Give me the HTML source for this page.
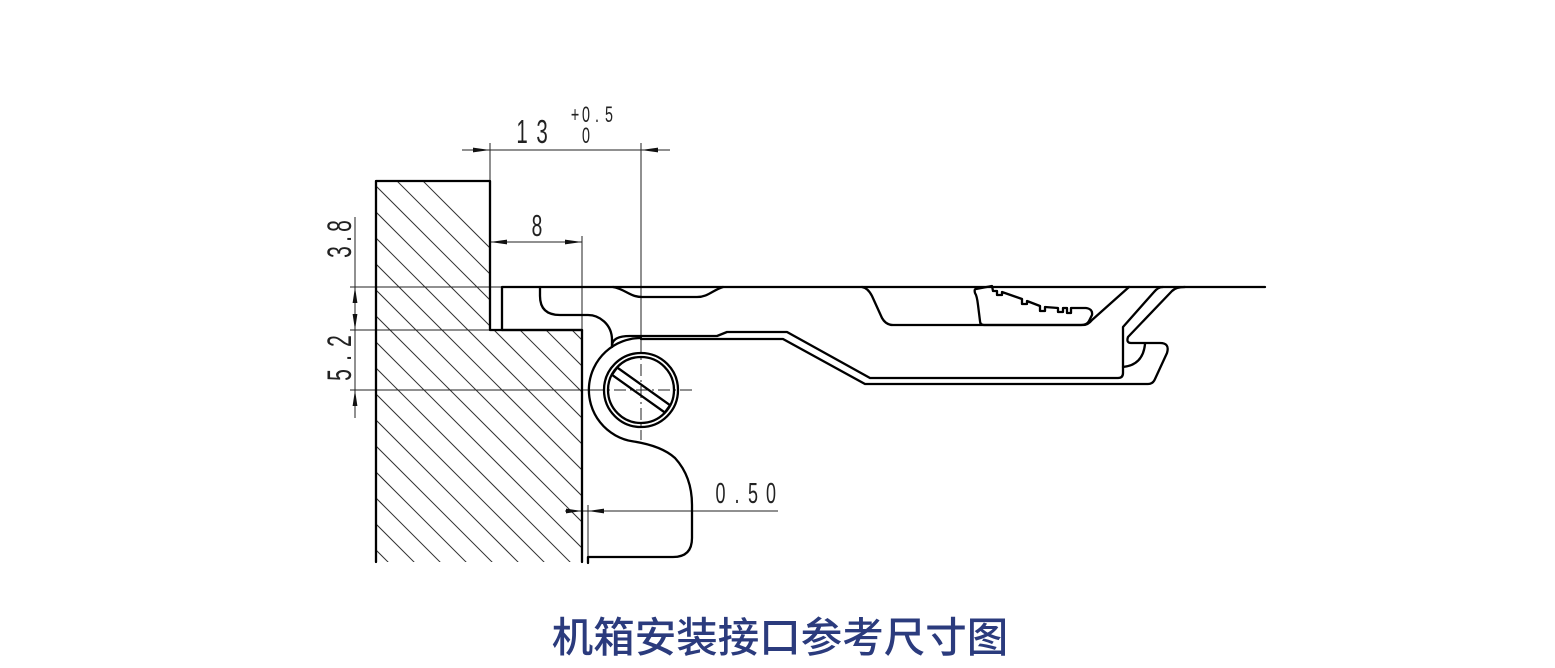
<!DOCTYPE html>
<html>
<head>
<meta charset="utf-8">
<style>
html,body{margin:0;padding:0;background:#fff;}
svg{display:block;}
.t{font-family:"Liberation Sans",sans-serif;fill:#222;}
</style>
</head>
<body>
<svg width="1555" height="668" viewBox="0 0 1555 668" xmlns="http://www.w3.org/2000/svg">
<defs>
<clipPath id="w"><polygon points="376,181 490,181 490,330 582,330 582,562 376,562"/></clipPath>
</defs>
<rect width="1555" height="668" fill="#fff"/>

<!-- hatching -->
<g clip-path="url(#w)" stroke="#333" stroke-width="1" fill="none">
<path d="M-4,170L406,580M22,170L432,580M48,170L458,580M74,170L484,580M100,170L510,580M126,170L536,580M152,170L562,580M178,170L588,580M204,170L614,580M230,170L640,580M256,170L666,580M282,170L692,580M308,170L718,580M334,170L744,580M360,170L770,580M386,170L796,580M412,170L822,580"/>
</g>

<!-- thin dimension / extension lines -->
<g stroke="#222" stroke-width="1" fill="none">
<path d="M462,150H670"/>
<path d="M490,143V181"/>
<path d="M641,143V342"/>
<path d="M641,342V440" stroke-dasharray="12,4,2,4"/>
<path d="M490,242H582"/>
<path d="M582,236V330"/>
<path d="M355,217V418"/>
<path d="M350,287H502"/>
<path d="M350,330H490"/>
<path d="M350,390H592"/>
<path d="M592,390H694" stroke-dasharray="12,4,2,4"/>
<path d="M565,511H778"/>
<path d="M588,505V557"/>
</g>

<!-- arrowheads -->
<g fill="#111">
<polygon points="490,150 473,147.6 473,152.4"/>
<polygon points="641,150 658,147.6 658,152.4"/>
<polygon points="490,242 507,239.6 507,244.4"/>
<polygon points="582,242 565,239.6 565,244.4"/>
<polygon points="355,287 352.6,303 357.4,303"/>
<polygon points="355,330 352.6,314 357.4,314"/>
<polygon points="355,390 352.6,406 357.4,406"/>
<polygon points="582,511 566,508.6 566,513.4"/>
<polygon points="588,511 604,508.6 604,513.4"/>
</g>

<!-- thick outlines -->
<g stroke="#000" stroke-width="2.3" fill="none" stroke-linejoin="round" stroke-linecap="round">
<path d="M376,562V181H490V330H582V562"/>
<path d="M502,330V287H1265"/>
<path d="M502,330H582"/>
<path d="M540,287V296Q540,315 560,315H588C599,315 612,324 612,340V347"/>
<path d="M613,287C625,289 630,297 642,297H697C708,297 713,290 723,287"/>
<path d="M612,345Q613,336 630,336H717L727,332H787L870,378H1118Q1123,378 1123,373V327L1154,292Q1158,287 1163,287"/>
<path d="M641,339H783L865,384H1148Q1153,384 1155,379L1167,353Q1170,343 1160,343H1131Q1126,343 1128,337L1172,291Q1176,287 1185,287"/>
<path d="M1145,344Q1143,365 1123,367"/>
<path d="M862,287Q868,288 872,296L882,318Q886,325 893,325H1083Q1088,325 1092,320L1129,287"/>
<path d="M976,289L992,286L993,291H997V295H1002V292L1022,299V304H1027V301L1040,306V311H1045V307L1058,308V312H1063V308H1067V313H1071V308H1086Q1093,309 1092,315L1089,321Q1087,325 1081,325H984Q980,325 980,321L978,305Q977,296 975,293Q974,289 976,289Z"/>
<path d="M641,338A52,52 0 0 0 633,441.4C650,444 665,449 675,458C686,470 692,485 692,505V538Q692,557 673,557H588V563"/>
<circle cx="641" cy="390" r="37"/>
<circle cx="641" cy="390" r="33"/>
<rect x="608.5" y="385.5" width="65" height="9" transform="rotate(35.5 641 390)"/>
</g>

<!-- dimension texts -->
<g class="t">
<text transform="translate(522,143) scale(0.62,1)" font-size="33" text-anchor="middle">1</text>
<text transform="translate(542,143) scale(0.62,1)" font-size="33" text-anchor="middle">3</text>
<text transform="translate(575,122) scale(0.65,1)" font-size="22" text-anchor="middle">+</text>
<text transform="translate(586,122) scale(0.65,1)" font-size="22" text-anchor="middle">0</text>
<text transform="translate(597,122) scale(0.65,1)" font-size="22" text-anchor="middle">.</text>
<text transform="translate(609,122) scale(0.65,1)" font-size="22" text-anchor="middle">5</text>
<text transform="translate(586,143) scale(0.65,1)" font-size="22" text-anchor="middle">0</text>
<text transform="translate(537,236) scale(0.62,1)" font-size="31" text-anchor="middle">8</text>
<text transform="translate(720.5,503) scale(0.62,1)" font-size="29" text-anchor="middle">0</text>
<text transform="translate(737,503) scale(0.62,1)" font-size="29" text-anchor="middle">.</text>
<text transform="translate(753,503) scale(0.62,1)" font-size="29" text-anchor="middle">5</text>
<text transform="translate(771,503) scale(0.62,1)" font-size="29" text-anchor="middle">0</text>
<text transform="translate(351,226) rotate(-90) scale(0.62,1)" font-size="34" text-anchor="middle">8</text>
<text transform="translate(351,239) rotate(-90) scale(0.62,1)" font-size="34" text-anchor="middle">.</text>
<text transform="translate(351,252) rotate(-90) scale(0.62,1)" font-size="34" text-anchor="middle">3</text>
<text transform="translate(351,341) rotate(-90) scale(0.62,1)" font-size="34" text-anchor="middle">2</text>
<text transform="translate(351,358) rotate(-90) scale(0.62,1)" font-size="34" text-anchor="middle">.</text>
<text transform="translate(351,375) rotate(-90) scale(0.62,1)" font-size="34" text-anchor="middle">5</text>
</g>

<!-- title -->
<text x="780" y="652" text-anchor="middle" font-size="41.5" font-weight="500" fill="#2b3b7d" style="font-family:'Liberation Sans','Noto Sans CJK SC',sans-serif;">机箱安装接口参考尺寸图</text>
</svg>
</body>
</html>
